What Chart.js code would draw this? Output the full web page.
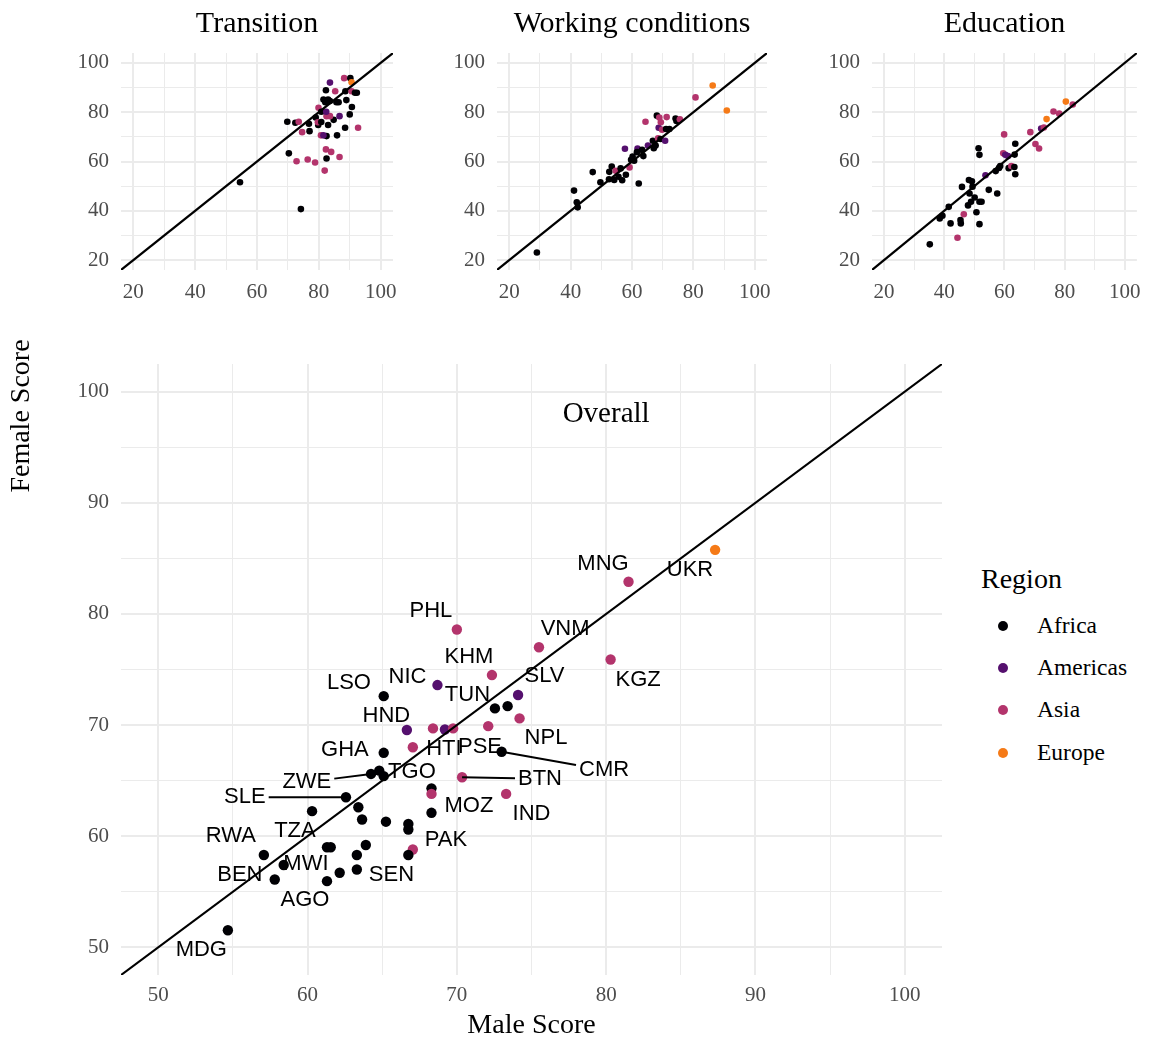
<!DOCTYPE html>
<html>
<head>
<meta charset="utf-8">
<title>Female vs male scores</title>
<script src="https://cdn.jsdelivr.net/npm/chart.js@4.4.1/dist/chart.umd.min.js"></script>
<style>
  html, body { margin: 0; padding: 0; background: #fff; }
  #page { position: relative; width: 1151px; height: 1037px; overflow: hidden; background: #fff; }
  #page canvas { position: absolute; }
  .lg { position: absolute; font-family: "Liberation Serif", "Times New Roman", serif; line-height: 1; color: #000; white-space: nowrap; }
  .lg-dot { position: absolute; width: 10px; height: 10px; border-radius: 50%; }
</style>
</head>
<body>
<div id="page">
  <canvas id="transition"></canvas>
  <canvas id="working"></canvas>
  <canvas id="education"></canvas>
  <canvas id="overall"></canvas>
  <div id="legend"></div>
</div>
<script>
const serif = '"Liberation Serif", "Times New Roman", serif';
const sans = '"Liberation Sans", Arial, sans-serif';

const regionNames = ['Africa', 'Americas', 'Asia', 'Europe'];
const regionCodes = ['AF', 'AM', 'AS', 'EU'];
const regionColors = ['#000004', '#55106E', '#B3346C', '#F57A17'];

const panelTitles = ['Transition', 'Working conditions', 'Education'];
const topTicks = [20, 40, 60, 80, 100];
const topLimits = [16, 104];
const mainTicks = [50, 60, 70, 80, 90, 100];
const mainLimits = [47.5, 102.5];

// small panels: male score, female score, region
const transitionMale = [54.5, 74.2, 70.3, 69.8, 72.4, 73.5, 74.6, 77.0, 76.8, 79.0, 79.8, 79.7, 80.8, 83.0, 84.8, 82.5, 83.6, 86.7,
  79.9, 80.8, 82.4, 81.5, 83.0, 83.6, 82.1, 85.7, 86.4, 82.3, 85.3, 88.2, 83.6, 90.2, 90.6, 88.6, 88.9, 90.6, 91.7, 92.3,
  90.7, 90.0, 88.5, 92.7, 85.9, 82.5, 80.7, 81.5, 82.3, 84.0, 82.5, 86.7, 72.8, 76.4, 78.8, 81.9];
const transitionFemale = [51.6, 40.7, 63.3, 76.1, 75.7, 76.1, 71.9, 72.3, 75.3, 77.8, 74.8, 75.9, 76.0, 74.8, 76.9, 78.4, 78.4, 78.4,
  81.8, 80.2, 80.2, 85.1, 85.1, 84.5, 84.0, 84.0, 84.0, 88.9, 88.5, 93.8, 92.0, 93.8, 92.1, 88.5, 84.9, 88.5, 87.9, 87.9,
  82.1, 79.1, 73.7, 73.7, 70.6, 70.3, 70.6, 70.6, 64.9, 63.9, 61.2, 61.8, 60.1, 60.8, 59.6, 56.3];
const transitionRegion = ['AF', 'AF', 'AF', 'AF', 'AF', 'AS', 'AS', 'AF', 'AF', 'AF', 'AF', 'AS', 'AF', 'AF', 'AF', 'AS', 'AS', 'AM',
  'AS', 'AF', 'AM', 'AF', 'AF', 'AF', 'AF', 'AF', 'AF', 'AF', 'AS', 'AS', 'AM', 'AF', 'EU', 'AF', 'AF', 'AS', 'AF', 'AF',
  'AF', 'AF', 'AF', 'AS', 'AF', 'AF', 'AS', 'AM', 'AS', 'AS', 'AF', 'AS', 'AS', 'AS', 'AS', 'AS'];

const workingMale = [29.0, 41.1, 42.0, 42.3, 47.2, 49.7, 52.6, 52.5, 53.4, 54.2, 54.7, 55.6, 56.3, 56.8, 58.0, 59.2, 57.7, 60.2,
  60.7, 61.8, 61.6, 62.2, 63.3, 63.7, 65.2, 64.4, 66.8, 67.1, 67.7, 68.1, 68.7, 68.9, 69.4, 69.8, 68.5, 69.3, 70.8, 71.3,
  71.1, 72.2, 74.2, 74.5, 75.6, 80.7, 86.3, 90.9, 59.7];
const workingFemale = [23.1, 48.2, 43.5, 41.4, 55.7, 51.6, 55.8, 52.8, 58.0, 52.5, 56.2, 53.8, 57.2, 52.4, 54.6, 57.6, 65.2, 62.0,
  60.3, 65.3, 63.8, 51.1, 64.7, 62.2, 66.5, 76.1, 68.4, 65.4, 66.5, 78.6, 73.7, 77.8, 75.9, 72.9, 69.4, 69.1, 68.4, 78.0,
  73.2, 73.2, 77.4, 76.4, 77.1, 86.0, 90.8, 80.7, 60.7];
const workingRegion = ['AF', 'AF', 'AF', 'AF', 'AF', 'AF', 'AF', 'AF', 'AF', 'AF', 'AS', 'AF', 'AF', 'AF', 'AF', 'AS', 'AM', 'AF',
  'AF', 'AM', 'AF', 'AF', 'AF', 'AF', 'AM', 'AS', 'AF', 'AF', 'AF', 'AF', 'AM', 'AS', 'AS', 'AS', 'AS', 'AF', 'AM', 'AS',
  'AF', 'AF', 'AF', 'AF', 'AS', 'AS', 'EU', 'EU', 'AF'];

const educationMale = [35.2, 38.5, 39.4, 41.5, 42.1, 44.4, 45.4, 45.5, 46.5, 45.9, 47.9, 48.2, 49.2, 48.4, 49.4, 48.9, 50.1, 50.7,
  51.7, 52.4, 51.7, 51.4, 51.7, 53.7, 54.8, 57.6, 57.1, 58.2, 58.6, 59.9, 59.6, 60.3, 61.2, 61.4, 62.3, 63.3, 63.6, 63.4,
  63.6, 68.6, 70.3, 71.5, 72.2, 73.1, 74.0, 76.3, 78.2, 80.4, 82.7];
const educationFemale = [26.4, 36.9, 38.0, 41.6, 34.9, 29.1, 36.3, 34.9, 38.6, 49.7, 42.2, 52.5, 52.0, 47.0, 49.8, 43.7, 45.4, 39.4,
  43.7, 43.7, 34.6, 65.4, 62.7, 54.4, 48.5, 47.0, 56.1, 57.4, 58.2, 71.0, 63.3, 62.7, 62.2, 57.3, 58.2, 57.8, 67.2, 62.8,
  54.8, 71.9, 67.1, 65.3, 73.4, 73.8, 77.2, 80.3, 79.4, 84.3, 83.1];
const educationRegion = ['AF', 'AF', 'AF', 'AF', 'AF', 'AS', 'AF', 'AF', 'AS', 'AF', 'AF', 'AF', 'AF', 'AF', 'AF', 'AF', 'AF', 'AF',
  'AF', 'AF', 'AF', 'AF', 'AF', 'AM', 'AF', 'AF', 'AF', 'AF', 'AF', 'AS', 'AS', 'AM', 'AM', 'AF', 'AS', 'AF', 'AF', 'AF',
  'AF', 'AS', 'AS', 'AS', 'AM', 'AS', 'EU', 'AS', 'AS', 'EU', 'AS'];

// overall panel
const overallCountry = ['MDG', 'UKR', 'MNG', 'PHL', 'VNM', 'KGZ', 'KHM', 'NIC', 'SLV', 'LSO', 'TUN', '', 'NPL', 'HND', '', '', '',
  'PSE', 'HTI', 'GHA', 'CMR', 'TGO', '', 'ZWE', 'BTN', 'SLE', '', '', 'IND', '', '', '', '', '', '', 'MOZ', 'PAK', '',
  'RWA', 'TZA', '', '', '', 'MWI', 'SEN', '', 'BEN', 'AGO'];
const overallMale = [54.66, 87.3, 81.5, 70.0, 75.5, 80.3, 72.35, 68.7, 74.1, 65.1, 72.55, 73.4, 74.2, 66.65, 68.4, 69.2, 69.75,
  72.1, 67.05, 65.1, 73.0, 65.1, 64.8, 64.25, 70.35, 62.57, 68.3, 68.3, 73.3, 60.3, 63.4, 63.65, 65.25, 66.75, 66.75, 68.3, 67.05, 66.75,
  57.07, 61.3, 61.55, 63.9, 63.3, 58.4, 63.3, 62.15, 57.8, 61.3];
const overallFemale = [51.53, 85.77, 82.9, 78.6, 77.0, 75.9, 74.5, 73.6, 72.7, 72.6, 71.5, 71.7, 70.6, 69.55, 69.7, 69.6, 69.7,
  69.9, 68.0, 67.5, 67.6, 65.4, 65.9, 65.6, 65.3, 63.5, 64.3, 63.8, 63.8, 62.25, 62.6, 61.5, 61.3, 61.1, 60.6, 62.1, 58.8, 58.3,
  58.3, 59.0, 59.0, 59.2, 58.3, 57.4, 57.0, 56.7, 56.1, 55.95];
const overallRegion = ['AF', 'EU', 'AS', 'AS', 'AS', 'AS', 'AS', 'AM', 'AM', 'AF', 'AF', 'AF', 'AS', 'AM', 'AS', 'AM', 'AS',
  'AS', 'AS', 'AF', 'AF', 'AF', 'AF', 'AF', 'AS', 'AF', 'AF', 'AS', 'AS', 'AF', 'AF', 'AF', 'AF', 'AF', 'AF', 'AF', 'AS', 'AF',
  'AF', 'AF', 'AF', 'AF', 'AF', 'AF', 'AF', 'AF', 'AF', 'AF'];

// where the repelled country labels sit (data units)
const labelCountry = ['MDG', 'UKR', 'MNG', 'PHL', 'VNM', 'KGZ', 'KHM', 'NIC', 'SLV', 'LSO', 'TUN', 'HND', 'NPL', 'GHA', 'HTI',
  'PSE', 'CMR', 'TGO', 'ZWE', 'BTN', 'SLE', 'MOZ', 'IND', 'TZA', 'PAK', 'RWA', 'MWI', 'SEN', 'BEN', 'AGO'];
const labelMale = [52.88, 85.62, 79.79, 68.26, 77.25, 82.14, 70.81, 66.69, 75.87, 62.77, 70.71, 65.28, 75.97, 62.50, 69.13,
  71.55, 79.86, 66.99, 59.95, 75.57, 55.80, 70.81, 75.0, 59.15, 69.27, 54.86, 59.89, 65.62, 55.46, 59.82];
const labelFemale = [49.77, 83.96, 84.50, 80.27, 78.65, 74.05, 76.13, 74.37, 74.41, 73.78, 72.70, 70.86, 68.83, 67.75, 67.84,
  68.02, 65.95, 65.77, 64.86, 65.18, 63.51, 62.70, 62.03, 60.45, 59.64, 60.05, 57.48, 56.53, 56.53, 54.23];
const segmentLabels = ['CMR', 'BTN', 'ZWE', 'SLE'];

function colourOf(code) {
  return regionColors[regionCodes.indexOf(code)];
}

function minorBetween(ticks) {
  const out = [];
  for (let i = 0; i < ticks.length - 1; i++) out.push((ticks[i] + ticks[i + 1]) / 2);
  return out;
}

function makeAxis(horizontal, limits, majors, size, pad) {
  const all = majors.concat(minorBetween(majors)).sort((a, b) => a - b);
  return {
    type: 'linear',
    min: limits[0],
    max: limits[1],
    afterBuildTicks: scale => { scale.ticks = all.map(v => ({ value: v })); },
    afterFit: scale => {
      if (horizontal) scale.height = size;
      else scale.width = size;
    },
    border: { display: false },
    grid: {
      color: '#EBEBEB',
      drawTicks: false,
      lineWidth: ctx => (ctx.tick && majors.includes(ctx.tick.value)) ? 2 : 1
    },
    ticks: {
      autoSkip: false,
      maxRotation: 0,
      padding: pad,
      color: '#4D4D4D',
      font: { family: serif, size: 21 },
      callback: v => majors.includes(v) ? String(v) : ''
    }
  };
}

const panelTitlePlugin = {
  id: 'panelTitle',
  afterDraw(chart, args, opts) {
    if (!opts.text) return;
    const { ctx, chartArea } = chart;
    ctx.save();
    ctx.font = '30px ' + serif;
    ctx.fillStyle = '#000';
    ctx.textAlign = 'center';
    ctx.textBaseline = 'alphabetic';
    ctx.fillText(opts.text, (chartArea.left + chartArea.right) / 2, opts.y);
    ctx.restore();
  }
};

// country labels, repel segments, inner title and y axis title of the big panel
const overallNotesPlugin = {
  id: 'overallNotes',
  afterDatasetsDraw(chart) {
    const { ctx, scales } = chart;
    const xs = scales.x, ys = scales.y;
    ctx.save();

    ctx.font = '29px ' + serif;
    ctx.fillStyle = '#000';
    ctx.textAlign = 'center';
    ctx.textBaseline = 'middle';
    ctx.fillText('Overall', xs.getPixelForValue(80), ys.getPixelForValue(98));

    ctx.font = '22px ' + sans;
    labelCountry.forEach((code, i) => {
      const cx = xs.getPixelForValue(labelMale[i]);
      const cy = ys.getPixelForValue(labelFemale[i]);
      if (segmentLabels.includes(code)) {
        const k = overallCountry.indexOf(code);
        const px = xs.getPixelForValue(overallMale[k]);
        const py = ys.getPixelForValue(overallFemale[k]);
        const hw = ctx.measureText(code).width / 2 + 3;
        const hh = 10;
        const dx = px - cx, dy = py - cy;
        const t = Math.min(dx ? hw / Math.abs(dx) : Infinity, dy ? hh / Math.abs(dy) : Infinity);
        ctx.beginPath();
        ctx.moveTo(cx + dx * t, cy + dy * t);
        ctx.lineTo(px, py);
        ctx.strokeStyle = '#000';
        ctx.lineWidth = 2;
        ctx.stroke();
      }
    });
    labelCountry.forEach((code, i) => {
      ctx.fillText(code, xs.getPixelForValue(labelMale[i]), ys.getPixelForValue(labelFemale[i]));
    });

    ctx.font = '28px ' + serif;
    ctx.translate(22, 96);
    ctx.rotate(-Math.PI / 2);
    ctx.fillText('Female Score', 0, 0);
    ctx.restore();
  }
};

function scatterPanel(id, area, margin, male, female, region, setup) {
  const canvas = document.getElementById(id);
  const w = Math.round(area.right - area.left + margin.left + margin.right);
  const h = Math.round(area.bottom - area.top + margin.top + margin.bottom);
  canvas.width = w;
  canvas.height = h;
  canvas.style.left = (area.left - margin.left) + 'px';
  canvas.style.top = (area.top - margin.top) + 'px';

  const xAxis = makeAxis(true, setup.limits, setup.ticks, margin.bottom, setup.xPad);
  if (setup.xTitle) {
    xAxis.title = {
      display: true, text: setup.xTitle, color: '#000',
      font: { family: serif, size: 28, lineHeight: 1 },
      padding: { top: 0, bottom: -3 }
    };
  }

  return new Chart(canvas, {
    type: 'scatter',
    data: {
      datasets: [
        {
          // y = x reference line across the panel
          data: setup.limits.map(v => ({ x: v, y: v })),
          showLine: true,
          borderColor: '#000',
          borderWidth: 2.2,
          pointRadius: 0,
          order: 0
        },
        {
          data: male.map((m, i) => ({ x: m, y: female[i] })),
          pointBackgroundColor: region.map(colourOf),
          pointBorderWidth: 0,
          pointRadius: setup.radius,
          pointHoverRadius: setup.radius,
          order: 1
        }
      ]
    },
    options: {
      responsive: false,
      animation: false,
      events: [],
      layout: { padding: { left: 0, top: margin.top, right: margin.right, bottom: 0 } },
      scales: {
        x: xAxis,
        y: makeAxis(false, setup.limits, setup.ticks, margin.left, 12)
      },
      plugins: {
        legend: { display: false },
        tooltip: { enabled: false },
        panelTitle: { text: setup.title, y: 32 }
      }
    },
    plugins: setup.plugins
  });
}

const topSetup = i => ({
  limits: topLimits, ticks: topTicks, radius: 3.3, xPad: 10,
  title: panelTitles[i], plugins: [panelTitlePlugin]
});

scatterPanel('transition', { left: 121, top: 53, right: 393, bottom: 270 }, { left: 71, top: 53, right: 20, bottom: 40 },
  transitionMale, transitionFemale, transitionRegion, topSetup(0));
scatterPanel('working', { left: 497, top: 53, right: 767, bottom: 270 }, { left: 77, top: 53, right: 20, bottom: 40 },
  workingMale, workingFemale, workingRegion, topSetup(1));
scatterPanel('education', { left: 872, top: 53, right: 1142, bottom: 270 }, { left: 77, top: 53, right: 9, bottom: 40 },
  educationMale, educationFemale, educationRegion, topSetup(2));

scatterPanel('overall', { left: 121, top: 364, right: 942, bottom: 975 }, { left: 121, top: 44, right: 15, bottom: 62 },
  overallMale, overallFemale, overallRegion, {
    limits: mainLimits, ticks: mainTicks, radius: 5.2, xPad: 8,
    xTitle: 'Male Score', plugins: [overallNotesPlugin]
  });

// legend
const legend = document.getElementById('legend');
const titleEl = document.createElement('div');
titleEl.className = 'lg';
titleEl.style.cssText = 'left:981px;top:565px;font-size:28px;';
titleEl.textContent = 'Region';
legend.appendChild(titleEl);
const rowTop = 625.7, rowGap = 42.3;
regionNames.forEach((name, i) => {
  const cy = rowTop + i * rowGap;
  const dot = document.createElement('div');
  dot.className = 'lg-dot';
  dot.style.left = '997.5px';
  dot.style.top = (cy - 5) + 'px';
  dot.style.background = regionColors[i];
  legend.appendChild(dot);
  const lab = document.createElement('div');
  lab.className = 'lg';
  lab.style.cssText = 'left:1037px;font-size:23.5px;top:' + (cy - 12) + 'px;';
  lab.textContent = name;
  legend.appendChild(lab);
});
</script>
</body>
</html>
